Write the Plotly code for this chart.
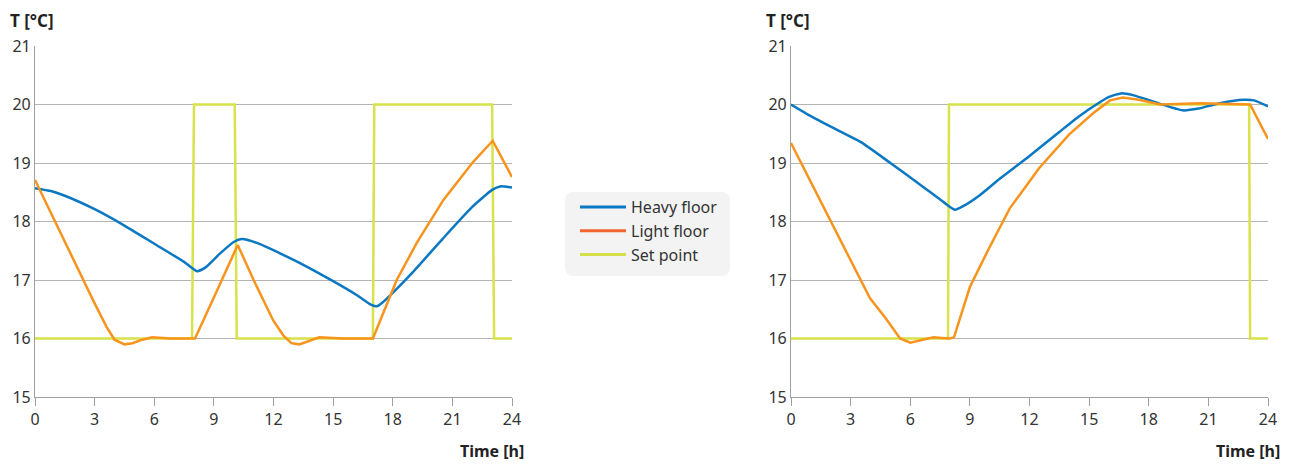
import plotly.graph_objects as go

# ---- data: room temperature over one day ----
hours_heavy_left = [0, 0.8, 1.5, 3, 4.5, 6, 7.5, 8.15, 8.6, 9.3, 10.0, 10.4, 11.2, 12.3, 13.5, 15,
                    16.2, 16.9, 17.2, 17.5, 18, 19, 20.5, 22, 23, 23.4, 24]
temp_heavy_left = [18.57, 18.52, 18.44, 18.21, 17.93, 17.62, 17.31, 17.15, 17.22, 17.45, 17.65, 17.7,
                   17.63, 17.46, 17.26, 16.98, 16.74, 16.58, 16.55, 16.62, 16.78, 17.13, 17.7, 18.25,
                   18.54, 18.6, 18.58]

hours_light_left = [0, 1, 2, 3, 3.6, 4.0, 4.5, 4.9, 5.4, 5.9, 6.8, 8.05, 9.0, 10.2, 11.0, 12.0, 12.5,
                    12.9, 13.3, 13.8, 14.3, 15.5, 17.0, 17.6, 18.2, 19.2, 20.55, 22.05, 23.03, 24]
temp_light_left = [18.71, 18.0, 17.3, 16.6, 16.2, 15.98, 15.9, 15.92, 15.98, 16.02, 16.0, 16.0, 16.7,
                   17.6, 17.0, 16.3, 16.05, 15.92, 15.9, 15.96, 16.02, 16.0, 16.0, 16.5, 17.0, 17.63,
                   18.37, 19.02, 19.38, 18.76]

hours_set_left = [0, 7.9, 8.0, 10.05, 10.15, 17.0, 17.07, 23.0, 23.1, 24]
temp_set_left = [16, 16, 20, 20, 16, 16, 20, 20, 16, 16]

hours_heavy_right = [0, 1, 2, 3.5, 5, 6.5, 7.8, 8.25, 8.7, 9.5, 10.5, 12, 13.5, 14.5, 15.5, 16.0,
                     16.6, 17.2, 18.5, 19.7, 20.5, 21.4, 22.2, 22.8, 23.3, 24]
temp_heavy_right = [20.0, 19.8, 19.62, 19.36, 19.0, 18.63, 18.3, 18.2, 18.27, 18.45, 18.73, 19.12,
                    19.53, 19.8, 20.03, 20.13, 20.19, 20.16, 20.02, 19.9, 19.93, 20.01, 20.06, 20.08,
                    20.07, 19.97]

hours_light_right = [0, 1.46, 3, 3.97, 4.8, 5.49, 6.0, 6.6, 7.16, 7.6, 8.0, 8.2, 9.0, 9.9, 11.0,
                     12.5, 14.0, 15.2, 16.05, 16.7, 17.5, 18.57, 20.6, 23.1, 24]
temp_light_right = [19.34, 18.37, 17.34, 16.69, 16.33, 16.0, 15.93, 15.97, 16.02, 16.01, 16.0, 16.02,
                    16.88, 17.5, 18.22, 18.92, 19.49, 19.85, 20.07, 20.12, 20.08, 20.0, 20.02, 20.0,
                    19.41]

hours_set_right = [0, 7.9, 7.95, 23.05, 23.1, 24]
temp_set_right = [16, 16, 20, 20, 16, 16]

x_ticks = [0, 3, 6, 9, 12, 15, 18, 21, 24]
y_ticks = [15, 16, 17, 18, 19, 20, 21]

series_names = ["Heavy floor", "Light floor", "Set point"]

# ---- styling ----
BLUE = "#0a78c2"
ORANGE = "#f7941d"
YELLOW = "#d8e24a"
LEGEND_COLORS = ["#0a78c2", "#f26531", "#d4e04a"]
FONT = "Noto Sans"
W, H = 1290, 464

fig = go.Figure()

panels = [
    ("x", "y", hours_set_left, temp_set_left, hours_heavy_left, temp_heavy_left,
     hours_light_left, temp_light_left),
    ("x2", "y2", hours_set_right, temp_set_right, hours_heavy_right, temp_heavy_right,
     hours_light_right, temp_light_right),
]
for xa, ya, hs, ts, hh, th, hl, tl in panels:
    fig.add_trace(go.Scatter(x=hs, y=ts, xaxis=xa, yaxis=ya, mode="lines",
                             line=dict(color=YELLOW, width=2.5), showlegend=False,
                             hoverinfo="skip"))
    fig.add_trace(go.Scatter(x=hh, y=th, xaxis=xa, yaxis=ya, mode="lines",
                             line=dict(color=BLUE, width=2.5, shape="spline", smoothing=0.5),
                             showlegend=False))
    fig.add_trace(go.Scatter(x=hl, y=tl, xaxis=xa, yaxis=ya, mode="lines",
                             line=dict(color=ORANGE, width=2.5), showlegend=False))

# legend entries
for name, col in zip(series_names, LEGEND_COLORS):
    fig.add_trace(go.Scatter(x=[None], y=[None], mode="lines", name=name,
                             line=dict(color=col, width=3)))


def px_x(p):
    return p / W


def px_y(p):
    return 1 - p / H


axis_common = dict(
    range=[0, 24], tickvals=x_ticks, ticks="outside", ticklen=8, tickcolor="#a0a0a0",
    tickwidth=1.2, showline=True, linecolor="#a0a0a0", linewidth=1.2, showgrid=False,
    zeroline=False, tickfont=dict(family=FONT, size=16, color="#333333"), fixedrange=True,
    automargin=False,
)
yaxis_common = dict(
    range=[15, 21], tickvals=y_ticks, ticks="", showline=True, linecolor="#a0a0a0",
    linewidth=1.2, showgrid=True, gridcolor="#b4b4b4", gridwidth=1.2, zeroline=False,
    tickfont=dict(family=FONT, size=16, color="#333333"), fixedrange=True,
    automargin=False,
)

y_dom = [px_y(397), px_y(46)]
fig.update_layout(
    width=W, height=H,
    margin=dict(l=0, r=0, t=0, b=0),
    paper_bgcolor="white", plot_bgcolor="white",
    font=dict(family=FONT, color="#333333"),
    xaxis=dict(domain=[px_x(35), px_x(512)], anchor="y", **axis_common),
    yaxis=dict(domain=y_dom, anchor="x", **yaxis_common),
    xaxis2=dict(domain=[px_x(791), px_x(1268)], anchor="y2", **axis_common),
    yaxis2=dict(domain=y_dom, anchor="x2", **yaxis_common),
    legend=dict(x=px_x(575), y=px_y(190), xanchor="left", yanchor="top",
                bgcolor="rgba(0,0,0,0)", font=dict(family=FONT, size=16, color="#333333"),
                tracegroupgap=0, itemwidth=46),
    showlegend=True,
)

# rounded grey panel behind the legend
x0, x1, y0, y1, r = 565, 730, 192, 276, 9
path = (
    f"M {px_x(x0 + r)},{px_y(y0)} L {px_x(x1 - r)},{px_y(y0)} "
    f"Q {px_x(x1)},{px_y(y0)} {px_x(x1)},{px_y(y0 + r)} "
    f"L {px_x(x1)},{px_y(y1 - r)} Q {px_x(x1)},{px_y(y1)} {px_x(x1 - r)},{px_y(y1)} "
    f"L {px_x(x0 + r)},{px_y(y1)} Q {px_x(x0)},{px_y(y1)} {px_x(x0)},{px_y(y1 - r)} "
    f"L {px_x(x0)},{px_y(y0 + r)} Q {px_x(x0)},{px_y(y0)} {px_x(x0 + r)},{px_y(y0)} Z"
)
fig.add_shape(type="path", path=path, xref="paper", yref="paper",
              fillcolor="#f3f3f3", line=dict(width=0), layer="below")

# axis titles
for xl, xr in [(8, 526), (764, 1282)]:
    fig.add_annotation(text="<b>T [°C]</b>", xref="paper", yref="paper",
                       x=px_x(xl), y=px_y(21), xanchor="left", yanchor="middle",
                       showarrow=False, font=dict(family=FONT, size=17, color="#222222"))
    fig.add_annotation(text="<b>Time [h]</b>", xref="paper", yref="paper",
                       x=px_x(xr), y=px_y(451), xanchor="right", yanchor="middle",
                       showarrow=False, font=dict(family=FONT, size=16, color="#222222"))

fig.write_html("out.html")
